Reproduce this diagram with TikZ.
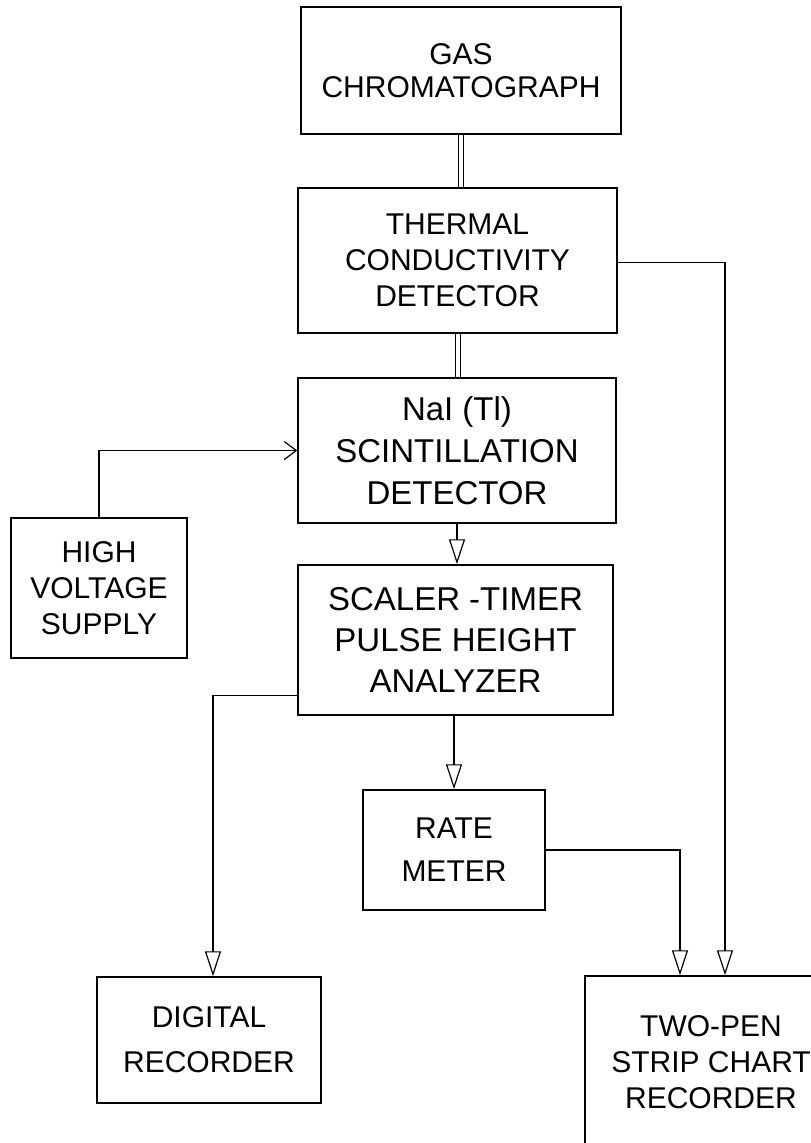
\documentclass[tikz,border=0pt]{standalone}
\usepackage{fontspec}
\setmainfont{Liberation Sans}
\usetikzlibrary{arrows.meta,calc}
\tikzset{
  blk/.style={draw, line width=1.5pt, rectangle, inner sep=0pt, align=center},
  fs/.style={font=\fontsize{30}{#1}\selectfont},
  fsb/.style={font=\fontsize{33}{#1}\selectfont},
  conn/.style={line width=1.2pt},
  arr/.style={conn, -{Triangle[open, length=25pt, width=16pt, line width=1.2pt]}},
  harr/.style={conn, -{Straight Barb[length=12pt, width=18pt, line width=1.2pt]}},
  pipe/.style={double distance=4pt, line width=1pt},
}
\begin{document}
\begin{tikzpicture}[x=1pt, y=-1pt]
\useasboundingbox (0,0) rectangle (811,1143);
\fill[white] (0,0) rectangle (811,1143);

\node[blk, fs=33, minimum width=320pt, minimum height=127pt] (gc) at (461,70.5) {GAS\\CHROMATOGRAPH};
\node[blk, fs=36, minimum width=319pt, minimum height=145pt] (tcd) at (457.5,260.5) {THERMAL\\CONDUCTIVITY\\DETECTOR};
\node[blk, fsb=42, minimum width=318pt, minimum height=145pt] (nai) at (457,450.5) {NaI (Tl)\\SCINTILLATION\\DETECTOR};
\node[blk, fsb=41, minimum width=315pt, minimum height=150pt] (sc) at (455.5,640) {SCALER -TIMER\\PULSE HEIGHT\\ANALYZER};
\node[blk, fs=36, minimum width=176pt, minimum height=140pt] (hv) at (99,588) {HIGH\\VOLTAGE\\SUPPLY};
\node[blk, fs=43, minimum width=182pt, minimum height=120pt] (rate) at (454,850) {RATE\\METER};
\node[blk, fs=45, minimum width=224pt, minimum height=126pt] (dig) at (209,1040) {DIGITAL\\RECORDER};
\node[blk, fs=36, minimum width=252pt, minimum height=172pt] (tp) at (711,1062) {TWO-PEN\\STRIP CHART\\RECORDER};

\draw[pipe] (gc.south) -- (gc.south |- tcd.north);
\draw[pipe] (tcd.south) -- (tcd.south |- nai.north);
\draw[arr] (nai.south) -- (nai.south |- sc.north);
\draw[harr] (hv.north) |- (nai.west);
\draw[arr] ([yshift=20pt]sc.south west) -| ([xshift=4pt]dig.north);
\draw[arr] (rate.north |- sc.south) -- (rate.north);
\draw[arr] (rate.east) -| ([xshift=-31pt]tp.north);
\draw[arr] ([yshift=-2pt]tcd.east) -| ([xshift=14pt]tp.north);
\end{tikzpicture}
\end{document}
